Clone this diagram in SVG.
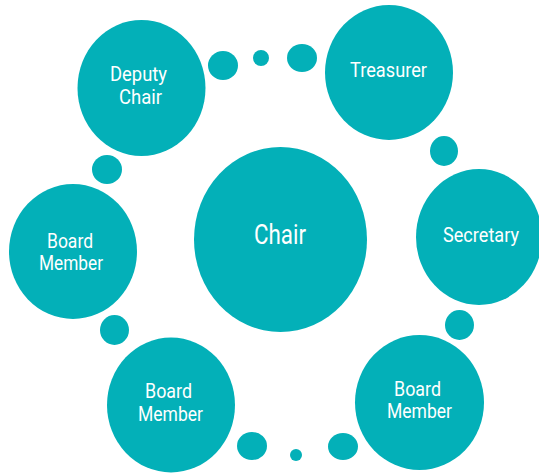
<svg xmlns="http://www.w3.org/2000/svg" width="539" height="473" viewBox="0 0 539 473">
<style>
.n{fill:#03B0B8}
.t{fill:#FFFFFF;font-family:Roboto,"Liberation Sans",sans-serif;font-size:21px;text-anchor:middle}
.big{font-size:27px}
</style>
<rect width="539" height="473" fill="#FFFFFF"/>
<g id="connectors">
<ellipse class="n" cx="223" cy="65.5" rx="15" ry="14.5"/>
<ellipse class="n" cx="261" cy="58" rx="8" ry="8"/>
<ellipse class="n" cx="302" cy="58" rx="15" ry="14"/>
<ellipse class="n" cx="444" cy="151" rx="14" ry="15"/>
<ellipse class="n" cx="459.5" cy="325" rx="14.5" ry="15"/>
<ellipse class="n" cx="343" cy="446.5" rx="15" ry="13.5"/>
<ellipse class="n" cx="296" cy="455" rx="6" ry="6"/>
<ellipse class="n" cx="252" cy="446" rx="15" ry="14"/>
<ellipse class="n" cx="114.5" cy="330" rx="14.5" ry="15"/>
<ellipse class="n" cx="107" cy="169.5" rx="15" ry="14.5"/>
</g>
<g id="chair">
<ellipse class="n" cx="280.5" cy="239.5" rx="86.5" ry="92.5"/>
<text class="t big" x="280" y="244" textLength="52" lengthAdjust="spacingAndGlyphs">Chair</text>
</g>
<g id="deputy-chair">
<ellipse class="n" cx="141.5" cy="88" rx="64" ry="68"/>
<text class="t" x="138.5" y="81" textLength="57" lengthAdjust="spacingAndGlyphs">Deputy</text>
<text class="t" x="140.5" y="104" textLength="43" lengthAdjust="spacingAndGlyphs">Chair</text>
</g>
<g id="treasurer">
<ellipse class="n" cx="389" cy="72.5" rx="64" ry="67.5"/>
<text class="t" x="388.5" y="77" textLength="77" lengthAdjust="spacingAndGlyphs">Treasurer</text>
</g>
<g id="secretary">
<ellipse class="n" cx="479" cy="237" rx="63" ry="68"/>
<text class="t" x="481" y="242" textLength="76" lengthAdjust="spacingAndGlyphs">Secretary</text>
</g>
<g id="board-member-right">
<ellipse class="n" cx="419.5" cy="402.5" rx="64.5" ry="67.5"/>
<text class="t" x="417.5" y="396" textLength="47" lengthAdjust="spacingAndGlyphs">Board</text>
<text class="t" x="419.5" y="418" textLength="65" lengthAdjust="spacingAndGlyphs">Member</text>
</g>
<g id="board-member-bottom">
<ellipse class="n" cx="171" cy="405" rx="64" ry="67.5"/>
<text class="t" x="168.5" y="398" textLength="47" lengthAdjust="spacingAndGlyphs">Board</text>
<text class="t" x="170.5" y="421" textLength="65" lengthAdjust="spacingAndGlyphs">Member</text>
</g>
<g id="board-member-left">
<ellipse class="n" cx="73" cy="251.5" rx="64" ry="67.5"/>
<text class="t" x="70" y="248" textLength="46" lengthAdjust="spacingAndGlyphs">Board</text>
<text class="t" x="71" y="270" textLength="64" lengthAdjust="spacingAndGlyphs">Member</text>
</g>
</svg>
